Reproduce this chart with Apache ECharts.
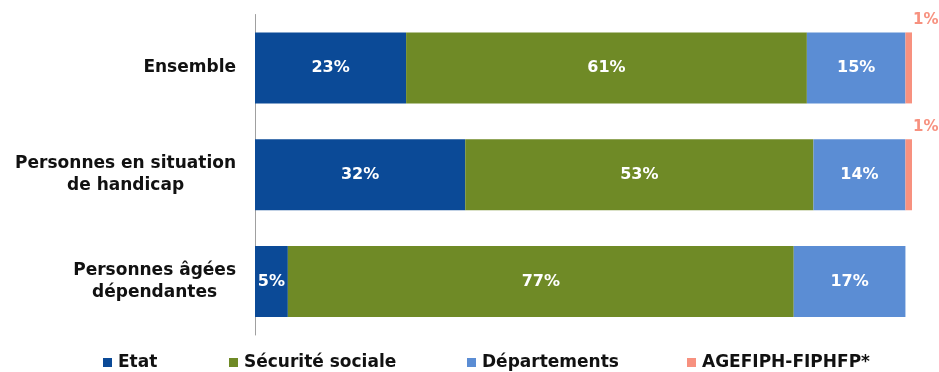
<!DOCTYPE html>
<html>
<head>
<meta charset="utf-8">
<script src="https://cdn.jsdelivr.net/npm/echarts@6/dist/echarts.min.js"></script>
<style>
  html, body { margin: 0; padding: 0; background: #ffffff; }
  #chart { width: 939px; height: 372px; }
</style>
</head>
<body>
<div id="chart"></div>
<script>
// Répartition des financements par public (en %)
const categories = ['Ensemble', 'Personnes en situation\nde handicap', 'Personnes âgées\ndépendantes'];
const seriesNames = ['Etat', 'Sécurité sociale', 'Départements', 'AGEFIPH-FIPHFP*'];
const etat = [23, 32, 5];
const securiteSociale = [61, 53, 77];
const departements = [15, 14, 17];
const agefiph = [1, 1, null];

const colors = ['#0B4A97', '#6F8A26', '#5B8DD4', '#F7917F'];
const FONT = 'DejaVu Sans';

const insideLabel = {
  show: true,
  position: 'inside',
  color: '#ffffff',
  fontFamily: FONT,
  fontWeight: 'bold',
  fontSize: 16,
  formatter: p => p.value + '%'
};

// Small shares are labelled above the right end of the bar
const outsideLabel = {
  show: true,
  position: ['100%', -12],
  align: 'left',
  verticalAlign: 'middle',
  offset: [1, 0],
  color: '#F7917F',
  fontFamily: FONT,
  fontWeight: 'bold',
  fontSize: 15,
  formatter: p => p.value + '%'
};

const values = [etat, securiteSociale, departements, agefiph];
const legendLefts = [103, 229, 467, 687];

const labelFont = {
  color: '#111111',
  fontFamily: FONT,
  fontWeight: 'bold',
  fontSize: 17,
  lineHeight: 22
};

const chart = echarts.init(document.getElementById('chart'), null, { renderer: 'canvas' });
chart.setOption({
  animation: false,
  color: colors,
  grid: { left: 255, right: 27, top: 14.5, bottom: 37 },
  xAxis: {
    type: 'value',
    min: 0,
    max: 100,
    show: false
  },
  yAxis: {
    type: 'category',
    inverse: true,
    data: categories,
    axisTick: { show: false },
    axisLine: { show: true, lineStyle: { color: '#A0A0A0', width: 1 } },
    axisLabel: Object.assign({
      margin: 19,
      align: 'right',
      // each line centred within the label block
      formatter: v => v.split('\n').map(l => '{c|' + l + '}').join('\n'),
      rich: { c: Object.assign({ align: 'center' }, labelFont) }
    }, labelFont)
  },
  legend: seriesNames.map((name, i) => ({
    data: [name],
    left: legendLefts[i],
    top: 354,
    padding: 0,
    itemWidth: 9,
    itemHeight: 9,
    icon: 'rect',
    itemGap: 0,
    textStyle: {
      color: '#111111',
      fontFamily: FONT,
      fontWeight: 'bold',
      fontSize: 17,
      padding: [0, 0, 0, 1]
    }
  })),
  series: seriesNames.map((name, i) => ({
    name: name,
    type: 'bar',
    stack: 'total',
    barWidth: 71,
    data: values[i],
    label: i === 3 ? outsideLabel : insideLabel,
    itemStyle: { color: colors[i] }
  }))
});
</script>
</body>
</html>
